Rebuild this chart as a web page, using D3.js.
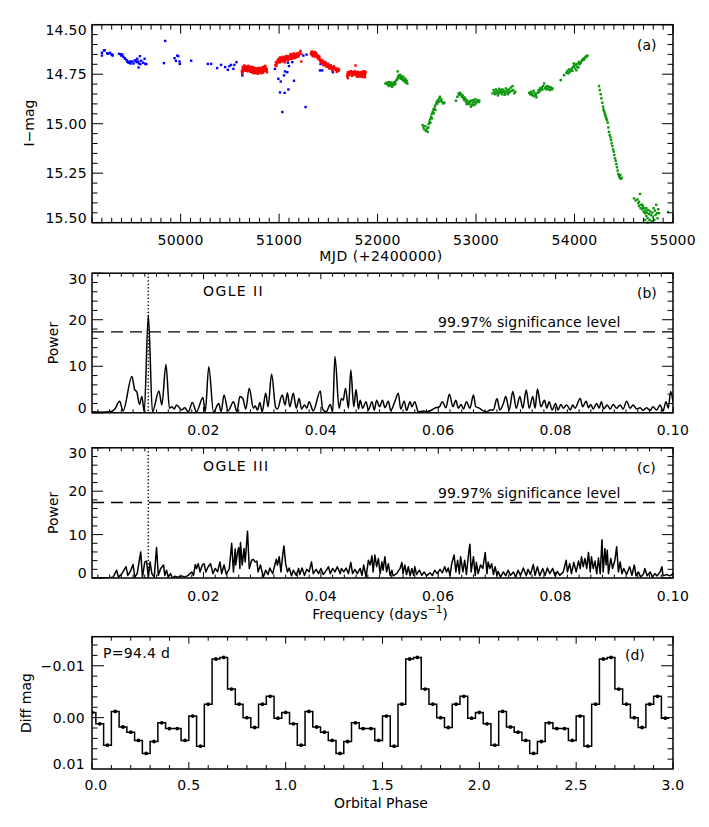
<!DOCTYPE html>
<html><head><meta charset="utf-8">
<script src="https://cdn.jsdelivr.net/npm/d3@7"></script>
<style>body{margin:0;background:#fff}svg{display:block}text{font-family:"DejaVu Sans",sans-serif;font-size:14px;fill:#000}</style>
</head><body><svg id="c" width="709" height="827"></svg>
<script>
// ---------------- DATA ----------------
// (a) light curve: [MJD, I-mag]
const survey1 = [[49201,14.642],[49201,14.656],[49222,14.630],[49228,14.629],[49255,14.644],[49262,14.647],[49282,14.642],[49296,14.649],[49310,14.656],[49306,14.652],[49374,14.647],[49391,14.649],[49397,14.656],[49408,14.651],[49418,14.662],[49431,14.669],[49438,14.672],[49452,14.679],[49458,14.686],[49468,14.691],[49478,14.692],[49485,14.686],[49492,14.696],[49506,14.686],[49522,14.696],[49533,14.682],[49543,14.679],[49553,14.689],[49560,14.672],[49570,14.686],[49576,14.696],[49573,14.716],[49587,14.659],[49600,14.682],[49593,14.699],[49620,14.692],[49634,14.672],[49641,14.698],[49651,14.699],[49843,14.582],[49830,14.694],[49938,14.669],[49952,14.682],[49965,14.656],[49975,14.659],[49989,14.686],[49992,14.698],[50107,14.682],[50276,14.698],[50310,14.698],[50371,14.719],[50411,14.703],[50452,14.714],[50479,14.728],[50496,14.709],[50512,14.703],[50536,14.723],[50546,14.703],[50567,14.689],[50627,14.756],[50627,14.740],[50958,14.723],[50992,14.773],[51016,14.787],[51050,14.756],[51060,14.736],[51083,14.740],[51100,14.709],[51090,14.692],[51134,14.689],[51151,14.783],[51009,14.842],[51056,14.844],[51094,14.827],[51033,14.941],[51269,14.916],[51246,14.656],[51279,14.651],[51421,14.698],[51415,14.731],[51438,14.731],[51546,14.740]];
const ogle2 = [[50622,14.735],[50625,14.748],[50630,14.715],[50636,14.722],[50641,14.710],[50645,14.728],[50650,14.718],[50655,14.712],[50660,14.725],[50664,14.716],[50670,14.730],[50675,14.720],[50680,14.712],[50684,14.726],[50690,14.718],[50695,14.732],[50700,14.722],[50705,14.715],[50710,14.728],[50714,14.736],[50720,14.720],[50725,14.730],[50730,14.717],[50735,14.740],[50740,14.725],[50745,14.732],[50750,14.722],[50755,14.738],[50760,14.728],[50765,14.735],[50770,14.720],[50775,14.742],[50780,14.730],[50785,14.725],[50790,14.738],[50795,14.718],[50800,14.732],[50805,14.728],[50810,14.740],[50815,14.722],[50820,14.735],[50825,14.728],[50830,14.716],[50835,14.730],[50840,14.722],[50845,14.712],[50850,14.725],[50855,14.718],[50860,14.708],[50865,14.720],[50870,14.728],[50878,14.740],
[50628,14.728],[50638,14.732],[50648,14.706],[50658,14.733],[50668,14.712],[50678,14.735],[50688,14.708],[50698,14.728],[50708,14.738],[50718,14.712],[50728,14.742],[50738,14.715],[50748,14.745],[50758,14.720],[50768,14.745],[50778,14.725],[50788,14.748],[50798,14.735],[50808,14.720],[50818,14.745],[50828,14.738],[50838,14.742],[50848,14.732],[50858,14.728],[50868,14.735],[50875,14.725],
[50962,14.705],[50968,14.690],[50975,14.698],[50985,14.680],[50990,14.688],[50995,14.672],[51000,14.682],[51005,14.676],[51010,14.690],[51015,14.672],[51020,14.680],[51025,14.668],[51030,14.676],[51035,14.684],[51040,14.670],[51045,14.678],[51050,14.666],[51055,14.674],[51060,14.682],[51065,14.668],[51070,14.675],[51075,14.663],[51080,14.672],[51085,14.660],[51090,14.670],[51095,14.676],[51100,14.662],[51105,14.668],[51110,14.656],[51115,14.665],[51120,14.672],[51125,14.658],[51130,14.664],[51135,14.652],[51140,14.660],[51145,14.668],[51150,14.655],[51155,14.662],[51160,14.650],[51165,14.658],[51172,14.665],[51178,14.652],[51185,14.660],[51192,14.646],[51200,14.655],[51210,14.640],[51218,14.632],[51225,14.648],[51226,14.686],
[50972,14.708],[50998,14.690],[51012,14.665],[51028,14.685],[51042,14.662],[51058,14.690],[51072,14.658],[51088,14.680],[51102,14.672],[51118,14.648],[51132,14.672],[51148,14.645],[51162,14.668],[51182,14.645],[51195,14.662],
[51322,14.648],[51328,14.642],[51335,14.655],[51340,14.645],[51345,14.650],[51350,14.640],[51355,14.652],[51360,14.645],[51365,14.660],[51370,14.650],[51375,14.642],[51380,14.658],[51385,14.665],[51390,14.655],[51395,14.670],[51400,14.662],[51405,14.675],[51410,14.668],[51418,14.682],[51425,14.690],[51430,14.680],[51435,14.688],[51440,14.696],[51445,14.685],[51450,14.692],[51455,14.700],[51460,14.690],[51465,14.698],[51470,14.705],[51475,14.695],[51480,14.702],[51485,14.708],[51490,14.700],[51495,14.712],[51500,14.705],[51505,14.715],[51510,14.708],[51515,14.718],[51520,14.710],[51528,14.720],[51535,14.714],[51542,14.722],[51550,14.716],[51558,14.724],[51565,14.718],[51572,14.728],[51580,14.722],[51588,14.730],[51595,14.726],[51602,14.734],[51608,14.728],
[51332,14.635],[51348,14.660],[51362,14.638],[51378,14.648],[51392,14.662],[51408,14.660],[51422,14.678],[51438,14.680],[51452,14.705],[51468,14.688],[51482,14.712],[51498,14.698],[51512,14.722],[51525,14.705],[51540,14.730],[51555,14.710],[51570,14.720],[51585,14.738],[51600,14.722],
[51692,14.760],[51695,14.748],[51700,14.740],[51705,14.752],[51710,14.745],[51715,14.738],[51720,14.750],[51725,14.742],[51730,14.735],[51735,14.748],[51740,14.740],[51745,14.755],[51750,14.745],[51755,14.738],[51760,14.750],[51765,14.742],[51770,14.735],[51776,14.706],[51780,14.745],[51785,14.752],[51790,14.740],[51795,14.758],[51800,14.748],[51805,14.762],[51810,14.750],[51815,14.742],[51820,14.755],[51825,14.745],[51830,14.760],[51835,14.748],[51840,14.740],[51845,14.755],[51850,14.745],[51855,14.735],[51860,14.750],[51865,14.742],[51870,14.758],[51875,14.748],[51878,14.738],
[51698,14.770],[51712,14.755],[51728,14.745],[51742,14.758],[51758,14.744],[51772,14.752],[51788,14.762],[51802,14.738],[51818,14.762],[51832,14.740],[51848,14.765],[51862,14.735],[51872,14.765]];
const ogle3 = [[52080,14.797],[52093,14.793],[52104,14.805],[52114,14.790],[52120,14.810],[52131,14.800],[52141,14.793],[52148,14.814],[52154,14.805],[52161,14.797],[52171,14.790],[52181,14.800],[52188,14.783],[52195,14.777],[52205,14.736],[52208,14.763],[52215,14.756],[52222,14.766],[52229,14.753],[52235,14.773],[52242,14.760],[52249,14.770],[52256,14.780],[52262,14.763],[52269,14.777],[52276,14.787],[52283,14.773],[52289,14.793],[52296,14.783],[52303,14.797],[52100,14.798],[52127,14.792],[52168,14.802],[52175,14.793],[52137,14.803],[52202,14.773],[52239,14.768],[52272,14.782],
[52458,15.007],[52465,15.019],[52475,15.029],[52485,15.012],[52492,15.036],[52502,15.024],[52509,15.041],[52516,15.019],[52519,15.002],[52526,14.990],[52533,14.978],[52536,14.995],[52543,14.965],[52550,14.951],[52553,14.973],[52560,14.940],[52567,14.928],[52570,14.948],[52577,14.923],[52583,14.911],[52587,14.931],[52594,14.901],[52600,14.889],[52607,14.898],[52614,14.881],[52621,14.889],[52627,14.872],[52634,14.864],[52641,14.884],[52648,14.877],[52654,14.891],[52668,14.898],[52678,14.894],
[52796,14.884],[52810,14.864],[52823,14.847],[52830,14.856],[52837,14.844],[52847,14.851],[52857,14.864],[52864,14.857],[52871,14.872],[52881,14.881],[52891,14.874],[52898,14.889],[52904,14.881],[52914,14.898],[52925,14.888],[52931,14.901],[52938,14.891],[52948,14.884],[52958,14.906],[52965,14.894],[52972,14.881],[52982,14.891],[52992,14.877],[52999,14.898],[53006,14.888],[53016,14.881],[53026,14.891],[53033,14.884],[52904,14.901],[52948,14.914],[52982,14.906],[52881,14.867],
[53168,14.847],[53178,14.830],[53188,14.839],[53195,14.851],[53202,14.827],[53209,14.844],[53219,14.834],[53229,14.847],[53236,14.824],[53242,14.839],[53252,14.830],[53263,14.851],[53269,14.827],[53276,14.840],[53286,14.834],[53296,14.847],[53303,14.822],[53310,14.839],[53320,14.830],[53330,14.844],[53337,14.827],[53344,14.839],[53354,14.817],[53364,14.834],[53371,14.810],[53377,14.830],[53388,14.847],[53398,14.839],[53256,14.842],[53290,14.854],[53323,14.851],[53222,14.857],
[53540,14.844],[53550,14.851],[53560,14.839],[53567,14.856],[53573,14.847],[53584,14.834],[53590,14.861],[53600,14.847],[53607,14.856],[53614,14.867],[53624,14.844],[53634,14.830],[53641,14.839],[53651,14.822],[53658,14.830],[53668,14.817],[53675,14.827],[53681,14.810],[53692,14.797],[53702,14.822],[53709,14.814],[53719,14.827],[53725,14.810],[53736,14.822],[53742,14.814],[53749,14.830],[53759,14.817],[53769,14.827],[53776,14.822],
[53860,14.780],[53894,14.755],[53918,14.743],[53928,14.733],[53938,14.746],[53945,14.726],[53952,14.738],[53962,14.730],[53972,14.721],[53979,14.733],[53985,14.713],[53996,14.709],[54006,14.721],[54012,14.704],[54019,14.699],[54029,14.713],[54040,14.696],[54046,14.688],[54053,14.699],[54063,14.693],[54073,14.682],[54080,14.679],[54090,14.671],[54097,14.676],[54107,14.666],[54114,14.662],[54124,14.659],[54131,14.656],[54019,14.730],[54040,14.716],[53992,14.696],
[54249,14.810],[54256,14.830],[54266,14.851],[54273,14.872],[54283,14.894],[54290,14.914],[54293,14.928],[54300,14.935],[54306,14.945],[54310,14.956],[54317,14.965],[54323,14.973],[54330,14.982],[54337,14.995],[54344,15.019],[54350,15.041],[54357,15.057],[54364,15.069],[54371,15.083],[54377,15.099],[54384,15.113],[54391,15.130],[54398,15.141],[54404,15.158],[54411,15.175],[54418,15.187],[54425,15.204],[54431,15.220],[54438,15.237],[54445,15.254],[54452,15.264],[54458,15.271],[54469,15.278],[54479,15.274],[54465,15.259],
[54604,15.377],[54621,15.388],[54638,15.382],[54648,15.402],[54655,15.415],[54665,15.355],[54671,15.427],[54678,15.410],[54688,15.432],[54695,15.419],[54702,15.444],[54709,15.427],[54715,15.452],[54722,15.439],[54729,15.466],[54736,15.449],[54742,15.478],[54749,15.436],[54756,15.456],[54763,15.486],[54769,15.444],[54776,15.461],[54783,15.494],[54790,15.449],[54796,15.469],[54803,15.427],[54810,15.486],[54817,15.439],[54823,15.461],[54830,15.410],[54837,15.452],[54844,15.478],[54850,15.432],[54857,15.452],[54715,15.486],[54742,15.499],[54655,15.394],[54688,15.410],[54729,15.427],[54950,15.446]];

// (b) OGLE II periodogram: [frequency, power]
const powerOgle2 = [[0.0010,0.2],[0.0024,0.1],[0.0041,0.2],[0.0049,0.8],[0.0057,2.5],[0.0063,0.4],[0.0078,7.8],[0.0083,4.9],[0.0086,4.6],[0.0091,1.8],[0.0095,3.5],[0.0099,0.2],[0.0106,21.0],[0.0113,0.2],[0.0124,4.7],[0.0129,1.7],[0.0136,10.4],[0.0142,1.0],[0.0146,1.3],[0.0150,0.8],[0.0154,1.7],[0.0163,0.6],[0.0168,1.1],[0.0174,0.2],[0.0181,2.2],[0.0188,0.2],[0.0199,3.3],[0.0203,0.2],[0.0209,9.9],[0.0217,0.2],[0.0226,2.0],[0.0230,0.2],[0.0235,3.8],[0.0242,0.4],[0.0251,2.4],[0.0257,0.2],[0.0262,3.5],[0.0267,3.1],[0.0272,0.8],[0.0278,5.3],[0.0285,1.0],[0.0288,1.5],[0.0292,0.6],[0.0296,2.2],[0.0300,0.2],[0.0306,4.2],[0.0310,1.3],[0.0316,8.3],[0.0323,1.1],[0.0326,0.8],[0.0334,3.8],[0.0339,1.7],[0.0343,4.3],[0.0347,1.3],[0.0353,4.2],[0.0358,1.0],[0.0363,3.1],[0.0367,0.8],[0.0372,1.7],[0.0376,1.0],[0.0380,2.4],[0.0387,0.4],[0.0399,4.7],[0.0403,0.8],[0.0409,0.2],[0.0416,1.8],[0.0420,0.2],[0.0424,12.1],[0.0431,1.0],[0.0435,3.1],[0.0438,2.7],[0.0442,5.3],[0.0447,1.0],[0.0451,9.2],[0.0456,1.3],[0.0460,5.0],[0.0464,0.8],[0.0467,2.7],[0.0471,1.0],[0.0477,2.4],[0.0481,0.6],[0.0487,2.4],[0.0491,0.6],[0.0495,2.7],[0.0500,1.3],[0.0505,2.7],[0.0509,1.1],[0.0515,2.5],[0.0519,0.5],[0.0526,2.4],[0.0532,4.2],[0.0536,0.8],[0.0542,2.5],[0.0546,0.5],[0.0552,2.4],[0.0555,1.3],[0.0560,2.4],[0.0566,0.2],[0.0575,0.4],[0.0580,0.2],[0.0589,0.6],[0.0594,1.0],[0.0602,1.3],[0.0607,2.4],[0.0613,1.1],[0.0619,4.0],[0.0625,1.3],[0.0630,2.7],[0.0634,1.0],[0.0639,1.8],[0.0643,0.8],[0.0648,2.4],[0.0654,1.0],[0.0660,3.8],[0.0664,1.3],[0.0670,1.0],[0.0677,0.4],[0.0683,0.2],[0.0688,0.6],[0.0694,0.6],[0.0700,3.1],[0.0705,0.6],[0.0711,2.0],[0.0715,3.5],[0.0721,0.6],[0.0727,4.6],[0.0733,1.0],[0.0739,3.5],[0.0744,1.0],[0.0750,4.9],[0.0755,1.0],[0.0761,3.5],[0.0765,1.0],[0.0769,5.1],[0.0775,1.3],[0.0781,2.7],[0.0785,1.0],[0.0789,2.4],[0.0794,0.6],[0.0800,2.0],[0.0804,0.6],[0.0809,1.8],[0.0813,1.0],[0.0819,1.7],[0.0825,0.6],[0.0829,1.7],[0.0833,1.0],[0.0842,3.1],[0.0846,1.3],[0.0852,2.5],[0.0856,1.1],[0.0860,1.8],[0.0864,0.8],[0.0870,2.0],[0.0874,1.0],[0.0878,2.4],[0.0882,0.8],[0.0888,1.7],[0.0893,0.8],[0.0898,1.8],[0.0904,1.0],[0.0910,1.7],[0.0915,0.8],[0.0921,2.5],[0.0927,1.0],[0.0932,1.7],[0.0938,0.8],[0.0944,1.1],[0.0949,0.5],[0.0955,1.1],[0.0961,0.5],[0.0966,1.3],[0.0972,0.6],[0.0978,1.7],[0.0983,0.4],[0.0988,2.4],[0.0992,1.0],[0.0996,4.6],[0.1000,2.4]];

// (c) OGLE III periodogram: [frequency, power]
const powerOgle3 = [[0.0010,0.0],[0.0024,0.0],[0.0041,0.1],[0.0046,0.2],[0.0052,1.8],[0.0055,0.2],[0.0061,1.0],[0.0068,2.6],[0.0071,0.6],[0.0075,1.4],[0.0080,3.1],[0.0083,0.2],[0.0087,1.0],[0.0093,6.0],[0.0096,0.2],[0.0100,3.7],[0.0103,3.9],[0.0106,0.2],[0.0109,3.7],[0.0112,1.0],[0.0116,0.2],[0.0120,7.0],[0.0123,0.6],[0.0127,2.2],[0.0132,3.0],[0.0134,0.6],[0.0137,1.8],[0.0140,0.2],[0.0144,1.0],[0.0147,0.0],[0.0151,0.4],[0.0157,0.2],[0.0163,0.5],[0.0168,0.2],[0.0174,0.6],[0.0180,1.4],[0.0183,0.6],[0.0186,3.1],[0.0188,2.2],[0.0191,3.3],[0.0194,1.4],[0.0198,3.0],[0.0201,3.3],[0.0204,1.4],[0.0208,2.6],[0.0212,3.3],[0.0216,1.0],[0.0220,2.2],[0.0224,1.4],[0.0228,3.7],[0.0231,1.0],[0.0235,3.0],[0.0239,0.8],[0.0244,2.2],[0.0248,8.0],[0.0251,1.4],[0.0254,6.7],[0.0255,3.0],[0.0258,6.0],[0.0260,7.0],[0.0262,2.2],[0.0263,8.2],[0.0266,3.0],[0.0269,6.8],[0.0271,3.7],[0.0275,10.8],[0.0278,2.2],[0.0282,4.1],[0.0285,4.3],[0.0288,3.7],[0.0291,3.9],[0.0293,1.4],[0.0297,3.0],[0.0302,0.2],[0.0306,1.8],[0.0310,0.8],[0.0313,2.3],[0.0318,1.0],[0.0320,2.2],[0.0324,4.3],[0.0326,3.0],[0.0329,4.9],[0.0332,1.4],[0.0335,5.4],[0.0337,7.4],[0.0340,3.3],[0.0343,1.4],[0.0346,2.3],[0.0350,0.5],[0.0353,1.8],[0.0358,0.6],[0.0362,2.2],[0.0364,0.8],[0.0368,2.3],[0.0372,0.6],[0.0376,2.0],[0.0380,1.4],[0.0384,3.7],[0.0387,1.0],[0.0392,2.0],[0.0396,1.0],[0.0400,2.2],[0.0404,0.8],[0.0409,1.7],[0.0413,2.6],[0.0416,1.0],[0.0420,2.2],[0.0424,1.4],[0.0428,2.6],[0.0433,1.0],[0.0435,2.2],[0.0439,1.4],[0.0443,2.3],[0.0447,1.0],[0.0451,3.6],[0.0454,1.0],[0.0458,2.0],[0.0462,1.0],[0.0467,2.2],[0.0470,0.6],[0.0473,3.0],[0.0477,0.2],[0.0481,4.1],[0.0484,3.0],[0.0487,5.1],[0.0489,1.4],[0.0492,5.3],[0.0495,2.6],[0.0498,4.5],[0.0501,1.0],[0.0504,3.7],[0.0506,1.8],[0.0509,4.9],[0.0512,1.4],[0.0515,3.3],[0.0518,0.6],[0.0521,1.8],[0.0523,0.5],[0.0529,1.0],[0.0535,2.2],[0.0538,3.6],[0.0540,1.0],[0.0543,3.0],[0.0546,0.8],[0.0549,2.6],[0.0552,0.5],[0.0555,2.2],[0.0558,0.6],[0.0560,2.6],[0.0563,0.8],[0.0568,1.8],[0.0572,0.6],[0.0576,1.4],[0.0580,0.5],[0.0586,1.2],[0.0590,0.6],[0.0594,1.8],[0.0598,1.0],[0.0603,2.0],[0.0607,1.2],[0.0611,2.6],[0.0614,1.4],[0.0617,2.3],[0.0620,0.6],[0.0623,3.3],[0.0627,5.3],[0.0630,1.4],[0.0633,4.1],[0.0636,1.0],[0.0638,4.9],[0.0642,1.4],[0.0645,4.1],[0.0648,0.8],[0.0652,6.0],[0.0654,7.8],[0.0656,1.4],[0.0660,4.9],[0.0663,0.6],[0.0665,3.6],[0.0668,1.0],[0.0672,3.0],[0.0676,2.2],[0.0680,5.9],[0.0683,1.0],[0.0685,3.7],[0.0688,2.2],[0.0691,3.3],[0.0694,0.8],[0.0697,2.6],[0.0700,0.6],[0.0702,1.5],[0.0706,0.2],[0.0711,1.4],[0.0715,0.5],[0.0719,1.8],[0.0723,0.6],[0.0728,1.4],[0.0732,0.2],[0.0736,1.8],[0.0740,0.6],[0.0745,2.3],[0.0750,0.5],[0.0753,2.0],[0.0757,0.8],[0.0762,3.1],[0.0765,0.6],[0.0769,2.6],[0.0773,0.5],[0.0778,2.2],[0.0782,0.6],[0.0786,2.3],[0.0790,1.0],[0.0795,2.2],[0.0799,0.5],[0.0803,1.5],[0.0807,0.6],[0.0813,1.4],[0.0818,4.1],[0.0820,1.4],[0.0824,3.3],[0.0827,1.0],[0.0831,3.6],[0.0835,1.4],[0.0839,3.9],[0.0842,2.2],[0.0844,4.9],[0.0847,2.6],[0.0850,4.5],[0.0853,2.2],[0.0856,5.9],[0.0859,1.4],[0.0861,4.9],[0.0864,2.2],[0.0867,3.9],[0.0870,1.0],[0.0873,4.6],[0.0876,1.0],[0.0879,8.8],[0.0881,1.4],[0.0884,6.8],[0.0886,3.0],[0.0888,6.4],[0.0890,1.0],[0.0894,4.5],[0.0897,2.2],[0.0901,4.1],[0.0904,7.2],[0.0907,1.4],[0.0910,3.7],[0.0913,1.0],[0.0916,2.2],[0.0921,0.8],[0.0926,2.6],[0.0930,0.6],[0.0934,3.0],[0.0937,0.5],[0.0941,1.4],[0.0945,0.2],[0.0950,1.0],[0.0952,2.2],[0.0956,0.5],[0.0961,1.4],[0.0965,0.2],[0.0969,1.0],[0.0973,0.5],[0.0978,1.4],[0.0981,2.6],[0.0983,0.5],[0.0989,0.8],[0.0995,0.5],[0.1000,1.0]];

const sigLevel = 17.4;          // 99.97% significance power
const periodDays = 94.4;        // dotted line at 1/P

// (d) folded light curve, 25 bins per cycle, 3 cycles
const phaseStep = 0.04;
const diffMag = [-0.0010,0.0012,0.0053,-0.0012,0.0018,0.0028,0.0044,0.0069,0.0046,0.0010,0.0021,0.0021,0.0044,-0.0003,0.0055,-0.0026,-0.0113,-0.0116,-0.0055,-0.0026,0.0000,0.0019,-0.0026,-0.0041,0.0001,
-0.0010,0.0012,0.0053,-0.0012,0.0018,0.0028,0.0044,0.0069,0.0046,0.0010,0.0021,0.0021,0.0044,-0.0003,0.0055,-0.0026,-0.0113,-0.0116,-0.0055,-0.0026,0.0000,0.0019,-0.0026,-0.0041,0.0001,
-0.0010,0.0012,0.0053,-0.0012,0.0018,0.0028,0.0044,0.0069,0.0046,0.0010,0.0021,0.0021,0.0044,-0.0003,0.0055,-0.0026,-0.0113,-0.0116,-0.0055,-0.0026,0.0000,0.0019,-0.0026,-0.0041,0.0001];

// ticks
const mjdTicks = [50000,51000,52000,53000,54000,55000];
const magTicks = [14.50,14.75,15.00,15.25,15.50];
const freqTicks = [0.02,0.04,0.06,0.08,0.10];
const powerTicks = [0,10,20,30];
const phaseTicks = [0.0,0.5,1.0,1.5,2.0,2.5,3.0];
const diffTicks = [-0.01,0.00,0.01];

// ---------------- DRAW ----------------
const svg = d3.select("#c");
const L = 92, R = 673;

const P = {
  a:{top:24.7,bot:222.7}, b:{top:273.2,bot:412.8}, c:{top:447.8,bot:578}, d:{top:636.7,bot:769}
};

const xA = d3.scaleLinear().domain([49100,55000]).range([L,R]);
const yA = d3.scaleLinear().domain([14.5,15.5]).range([P.a.top,P.a.bot]);
const xF = d3.scaleLinear().domain([0.001,0.1]).range([L,R]);
const yB = d3.scaleLinear().domain([0,30]).range([P.b.bot,P.b.top]);
const yC = d3.scaleLinear().domain([0,30]).range([P.c.bot,P.c.top]);
const xD = d3.scaleLinear().domain([0,3]).range([L,R]);
const yD = d3.scaleLinear().domain([0.0099,-0.0156]).range([P.d.bot,P.d.top]);

function ln(g,x1,y1,x2,y2,w){g.append("line").attr("x1",x1).attr("y1",y1).attr("x2",x2).attr("y2",y2).attr("stroke","#000").attr("stroke-width",w||1);}
function near(a,b){return Math.abs(a-b)<1e-9;}

function frame(o){
  const g = svg.append("g");
  const top=o.top, bot=o.bot;
  o.xMinor.forEach(v=>{ if(o.xMajor.some(m=>near(m,v))) return; const px=o.x(v); ln(g,px,bot,px,bot-o.xLen[1]); ln(g,px,top,px,top+o.xLen[1]); });
  o.xMajor.forEach(v=>{ const px=o.x(v); ln(g,px,bot,px,bot-o.xLen[0]); ln(g,px,top,px,top+o.xLen[0]); });
  o.yMinor.forEach(v=>{ if(o.yMajor.some(m=>near(m,v))) return; const py=o.y(v); if(py<top-0.5||py>bot+0.5) return; ln(g,L,py,L+o.yLen[1],py); ln(g,R,py,R-o.yLen[1],py); });
  o.yMajor.forEach(v=>{ const py=o.y(v); if(py<top-0.5||py>bot+0.5) return; ln(g,L,py,L+o.yLen[0],py); ln(g,R,py,R-o.yLen[0],py); });
  g.append("rect").attr("x",L).attr("y",top).attr("width",R-L).attr("height",bot-top).attr("fill","none").attr("stroke","#000").attr("stroke-width",1.5);
  o.xMajor.forEach((v,i)=>{ let px=o.x(v); if(near(px,L)) px+=4;
    g.append("text").attr("x",px).attr("y",o.xLabY).attr("text-anchor","middle").attr("letter-spacing","0.3px").text(o.xFmt(v)); });
  o.yMajor.forEach(v=>{ let py=o.y(v); if(py<top+3) py=top+5.3; else if(py>bot-3) py=bot-4.6;
    g.append("text").attr("x",o.yLabX).attr("y",py+5).attr("text-anchor","end").attr("letter-spacing","0.3px").text(o.yFmt(v)); });
  return g;
}
function range(a,b,s){const r=[];for(let i=0;a+i*s<=b+s*1e-6;i++)r.push(+(a+i*s).toFixed(6));return r;}
function clip(id,top,bot){svg.append("clipPath").attr("id",id).append("rect").attr("x",L).attr("y",top).attr("width",R-L).attr("height",bot-top);}

// ---- panel a ----
clip("ca",P.a.top-2,P.a.bot+2);
const ga = svg.append("g").attr("clip-path","url(#ca)");
[[survey1,"#0000ff"],[ogle2,"#ff0000"],[ogle3,"#0a960a"]].forEach(([d,c])=>{
  ga.selectAll(null).data(d).enter().append("rect")
    .attr("x",p=>xA(p[0])-1.2).attr("y",p=>yA(p[1])-1.2).attr("width",2.4).attr("height",2.4).attr("fill",c);
});
frame({x:xA,y:yA,top:P.a.top,bot:P.a.bot,xMajor:mjdTicks,xMinor:range(49100,55000,100),yMajor:magTicks,yMinor:range(14.5,15.5,0.05),
  xLen:[9,5],yLen:[11,5.5],xLabY:245,yLabX:87,xFmt:d=>String(d),yFmt:d=>d.toFixed(2)});
svg.append("text").attr("x",381).attr("y",261).attr("text-anchor","middle").attr("letter-spacing","0.5px").text("MJD (+2400000)");
svg.append("text").attr("transform","translate(34,123) rotate(-90)").attr("text-anchor","middle").text("I\u2212mag");
svg.append("text").attr("x",637).attr("y",50).text("(a)");

// ---- panels b, c ----
function pgram(data,y,top,bot,id,curve,name,letter,labY){
  clip(id,top,bot);
  const g = svg.append("g").attr("clip-path","url(#"+id+")");
  g.append("line").attr("x1",L).attr("x2",R).attr("y1",y(sigLevel)).attr("y2",y(sigLevel))
    .attr("stroke","#000").attr("stroke-width",1.3).attr("stroke-dasharray","12,7");
  g.append("line").attr("x1",xF(1/periodDays)).attr("x2",xF(1/periodDays)).attr("y1",top).attr("y2",bot)
    .attr("stroke","#000").attr("stroke-width",1.5).attr("stroke-dasharray","1.2,2.3");
  g.append("path").datum(data).attr("fill","none").attr("stroke","#000").attr("stroke-width",1.5).attr("stroke-linejoin","round")
    .attr("d",d3.line().x(p=>xF(p[0])).y(p=>y(p[1])).curve(curve));
  frame({x:xF,y:y,top:top,bot:bot,xMajor:freqTicks,xMinor:range(0.002,0.1,0.002),yMajor:powerTicks,yMinor:range(0,30,2),
    xLen:[6,3.5],yLen:[11,5.5],xLabY:labY,yLabX:87,xFmt:d=>d.toFixed(2),yFmt:d=>String(d)});
  svg.append("text").attr("x",203).attr("y",top+23).attr("letter-spacing","1.4px").text(name);
  svg.append("text").attr("x",438).attr("y",y(sigLevel)-4.5).attr("letter-spacing","0.15px").text("99.97% significance level");
  svg.append("text").attr("x",637).attr("y",top+25).text(letter);
  svg.append("text").attr("transform","translate(58,"+((top+bot)/2)+") rotate(-90)").attr("text-anchor","middle").text("Power");
}
pgram(powerOgle2,yB,P.b.top,P.b.bot,"cb",d3.curveMonotoneX,"OGLE II","(b)",435);
pgram(powerOgle3,yC,P.c.top,P.c.bot,"cc",d3.curveLinear,"OGLE III","(c)",600.5);
const ft = svg.append("text").attr("x",380).attr("y",619).attr("text-anchor","middle");
ft.append("tspan").text("Frequency (days");
ft.append("tspan").attr("dy",-6).attr("font-size","10px").text("\u22121");
ft.append("tspan").attr("dy",6).text(")");

// ---- panel d ----
clip("cd",P.d.top,P.d.bot);
const gd = svg.append("g").attr("clip-path","url(#cd)");
const pts = diffMag.map((v,i)=>[i*phaseStep,v]);
gd.append("path").datum(pts).attr("fill","none").attr("stroke","#000").attr("stroke-width",1.5)
  .attr("d",d3.line().x(p=>xD(p[0])).y(p=>yD(p[1])).curve(d3.curveStep));
const last = pts[pts.length-1];
gd.append("line").attr("x1",xD(last[0])).attr("x2",xD(last[0]+phaseStep/2)).attr("y1",yD(last[1])).attr("y2",yD(last[1])).attr("stroke","#000").attr("stroke-width",1.5);
gd.selectAll(null).data(pts).enter().append("circle").attr("cx",p=>xD(p[0])).attr("cy",p=>yD(p[1])).attr("r",1.9).attr("fill","#000");
frame({x:xD,y:yD,top:P.d.top,bot:P.d.bot,xMajor:phaseTicks,xMinor:range(0,3,0.1),yMajor:diffTicks,yMinor:range(-0.014,0.01,0.002),
  xLen:[7,4],yLen:[12,5.5],xLabY:790,yLabX:85,xFmt:d=>d.toFixed(1),yFmt:d=>(d<0?"\u2212":"")+Math.abs(d).toFixed(2)});
svg.append("text").attr("x",381).attr("y",808).attr("text-anchor","middle").text("Orbital Phase");
svg.append("text").attr("transform","translate(31,703) rotate(-90)").attr("text-anchor","middle").text("Diff mag");
svg.append("text").attr("x",103).attr("y",658).attr("letter-spacing","0.3px").text("P=94.4 d");
svg.append("text").attr("x",625).attr("y",660).text("(d)");
</script></body></html>
